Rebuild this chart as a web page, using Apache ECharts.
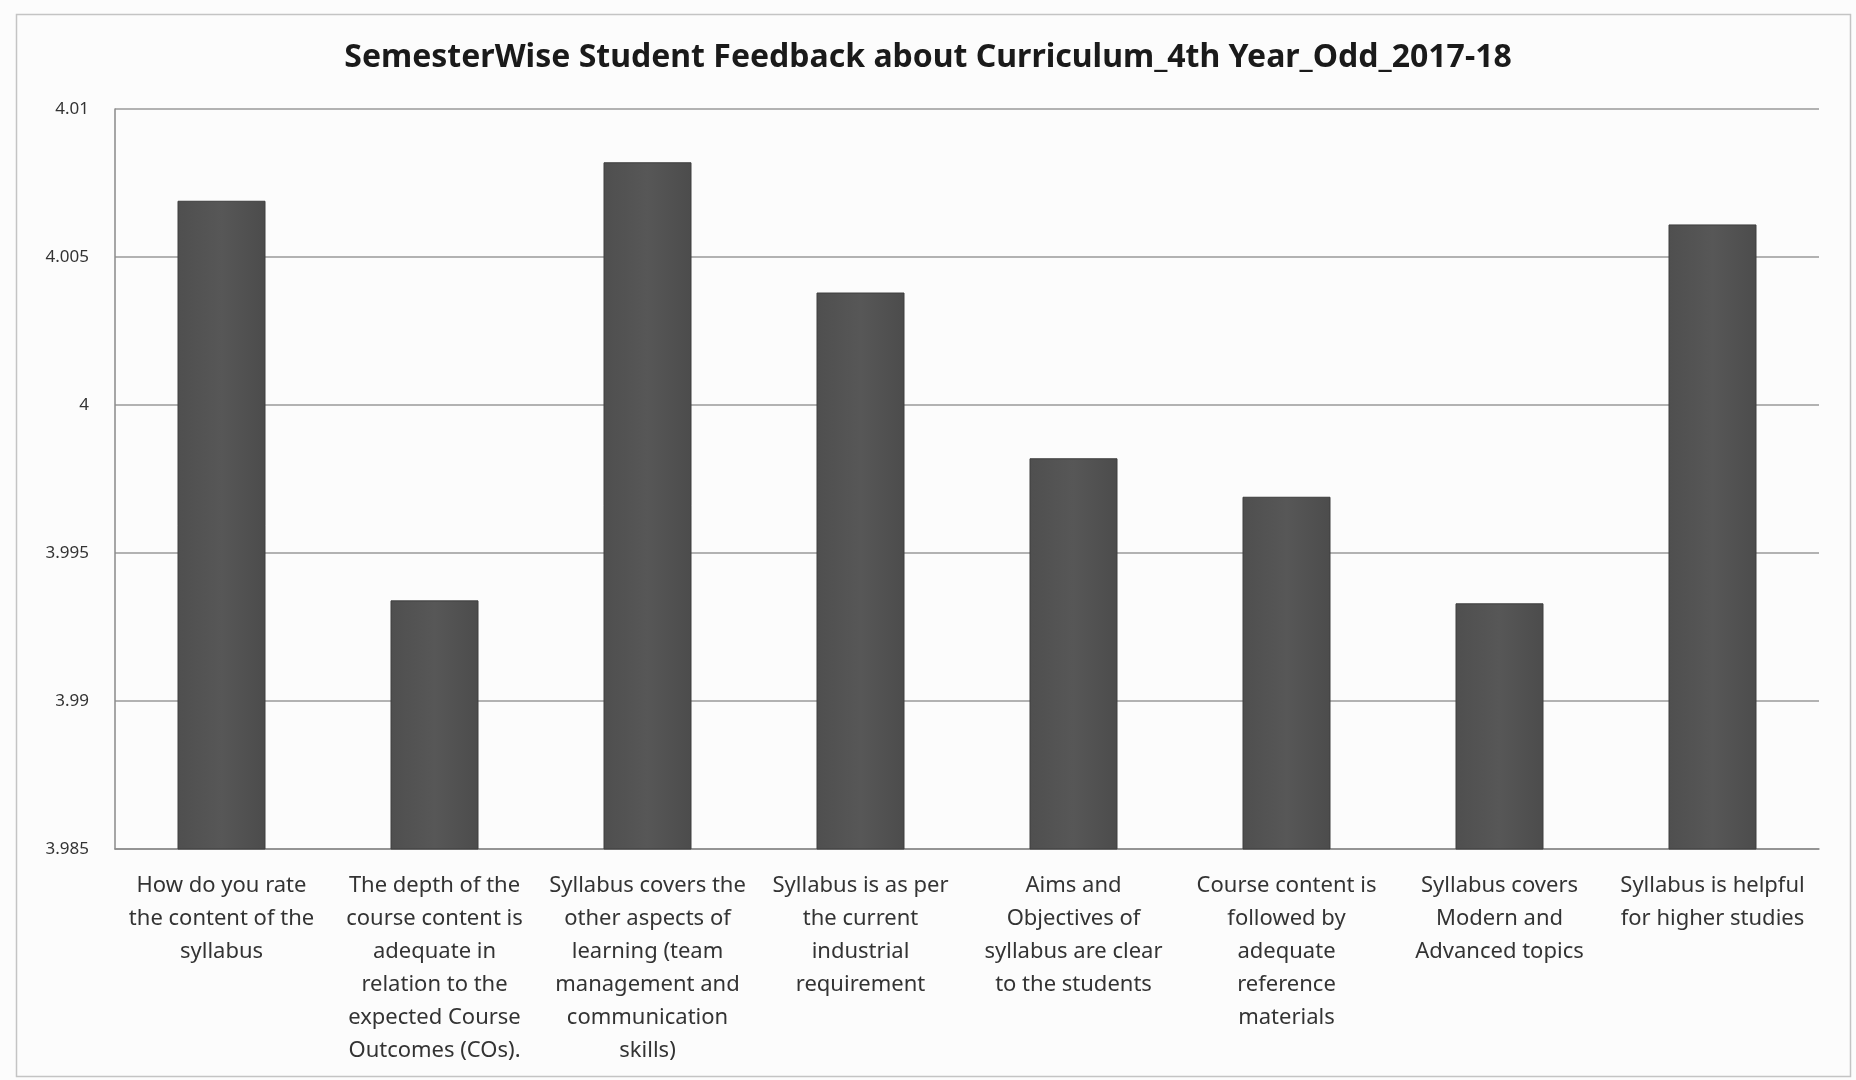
<!DOCTYPE html>
<html>
<head>
<meta charset="utf-8">
<style>html,body{margin:0;padding:0;background:#fcfcfc;}#chart{width:1856px;height:1080px;}</style>
<script src="https://cdn.jsdelivr.net/npm/echarts@6/dist/echarts.min.js"></script>
</head>
<body>
<div id="chart"></div>
<script>
const titleText = 'SemesterWise Student Feedback about Curriculum_4th Year_Odd_2017-18';
const categories = [
  'How do you rate\nthe content of the\nsyllabus',
  'The depth of the\ncourse content is\nadequate in\nrelation to the\nexpected Course\nOutcomes (COs).',
  'Syllabus covers the\nother aspects of\nlearning (team\nmanagement and\ncommunication\nskills)',
  'Syllabus is as per\nthe current\nindustrial\nrequirement',
  'Aims and\nObjectives of\nsyllabus are clear\nto the students',
  'Course content is\nfollowed by\nadequate\nreference\nmaterials',
  'Syllabus covers\nModern and\nAdvanced topics',
  'Syllabus is helpful\nfor higher studies'
];
const values = [4.0069, 3.9934, 4.0082, 4.0038, 3.9982, 3.9969, 3.9933, 4.0061];
const yTicks = [3.985, 3.99, 3.995, 4, 4.005, 4.01];

const chart = echarts.init(document.getElementById('chart'));
chart.setOption({
  backgroundColor: '#fcfcfc',
  animation: false,
  title: {
    text: titleText,
    left: 'center',
    top: 37,
    textStyle: {fontFamily: 'Noto Sans', fontWeight: 'bold', fontSize: 32, color: '#1a1a1a'}
  },
  graphic: [{
    type: 'rect', left: 14, top: 12, shape: {width: 1834, height: 1062},
    style: {fill: 'none', stroke: '#c4c4c4', lineWidth: 1.5}, silent: true
  }],
  grid: {left: 115, right: 37, top: 109, bottom: 231},
  xAxis: {
    type: 'category',
    data: categories,
    axisLine: {show: true, lineStyle: {color: '#8a8a8a', width: 1.5}},
    axisTick: {show: false},
    axisLabel: {
      interval: 0, margin: 20, fontFamily: 'Noto Sans', fontSize: 22,
      color: '#333', lineHeight: 33
    }
  },
  yAxis: {
    type: 'value',
    min: yTicks[0], max: yTicks[yTicks.length - 1], interval: 0.005,
    axisLine: {show: true, lineStyle: {color: '#8a8a8a', width: 1.5}},
    axisTick: {show: false},
    splitLine: {show: true, lineStyle: {color: '#9a9a9a', width: 1.5}},
    axisLabel: {
      margin: 26, fontFamily: 'Noto Sans', fontSize: 17, color: '#333',
      formatter: v => String(parseFloat(v.toFixed(3)))
    }
  },
  series: [{
    type: 'bar',
    data: values,
    barWidth: 88,
    itemStyle: {
      color: new echarts.graphic.LinearGradient(0, 0, 1, 0, [
        {offset: 0, color: '#4f4f4f'},
        {offset: 0.5, color: '#575757'},
        {offset: 1, color: '#4c4c4c'}
      ]),
      borderColor: '#3e3e3e', borderWidth: 1
    }
  }]
});
</script>
</body>
</html>
